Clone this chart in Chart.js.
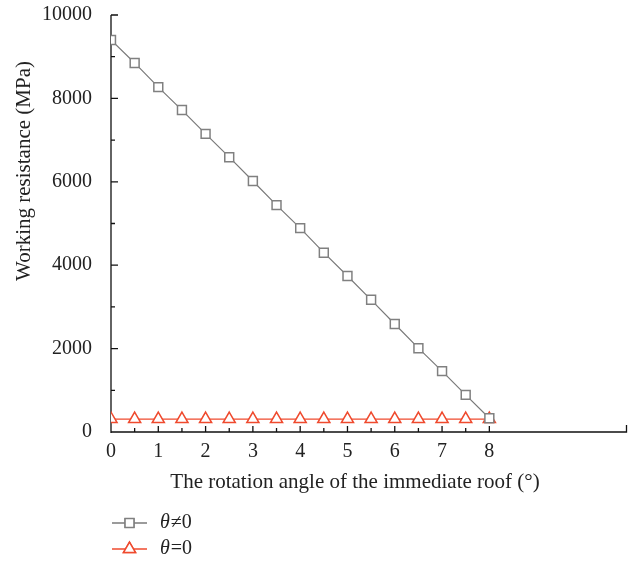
<!DOCTYPE html>
<html>
<body style="margin:0;background:#fff;">

<div style="width:635px;height:562px;">
  <canvas id="lineChart" width="635" height="562"></canvas>
</div>

<script src="https://cdn.jsdelivr.net/npm/chart.js"></script>

<script>
// rotation angle of the immediate roof (deg)
const angles = [0, 0.5, 1, 1.5, 2, 2.5, 3, 3.5, 4, 4.5, 5, 5.5, 6, 6.5, 7, 7.5, 8];
// working resistance, theta != 0
const resistNonZero = [9400, 8850, 8270, 7720, 7150, 6590, 6020, 5440, 4890, 4300, 3740, 3170, 2590, 2010, 1460, 890, 330];
// working resistance, theta = 0
const resistZero = [310, 310, 310, 310, 310, 310, 310, 310, 310, 310, 310, 310, 310, 310, 310, 310, 310];
const seriesNames = ['\u03b8\u22600', '\u03b8=0'];
const yTicks = [0, 2000, 4000, 6000, 8000, 10000];
const xLabels = [0, 1, 2, 3, 4, 5, 6, 7, 8];

const serif = '"Liberation Serif", "Times New Roman", serif';
const grayCol = '#7a7a7a';
const redCol = '#ef4a2e';

function toPoints(xs, ys){
    return xs.map((x, i) => ({x: x, y: ys[i]}));
}

const axesPlugin = {
    id: 'axesPlugin',
    beforeDatasetsDraw(chart){
        const ctx = chart.ctx;
        const xs = chart.scales.x, ys = chart.scales.y;
        const x0 = xs.getPixelForValue(0);
        const y0 = ys.getPixelForValue(0);
        const xEnd = xs.getPixelForValue(xs.max);
        const yTop = ys.getPixelForValue(10000);
        ctx.save();
        ctx.strokeStyle = '#111';
        ctx.lineWidth = 1.3;
        ctx.beginPath();
        ctx.moveTo(x0, yTop);
        ctx.lineTo(x0, y0 + 1);
        ctx.moveTo(x0, y0);
        ctx.lineTo(xEnd, y0);
        ctx.lineTo(xEnd, y0 - 7);
        // y ticks, every 1000, pointing inward
        for(let v = 0; v <= 10000; v += 1000){
            let py = ys.getPixelForValue(v);
            let len = (v % 2000 === 0) ? 7 : 4;
            ctx.moveTo(x0, py);
            ctx.lineTo(x0 + len, py);
        }
        // x ticks, every 0.5, pointing up
        for(let v = 0.5; v <= 8; v += 0.5){
            let px = xs.getPixelForValue(v);
            let len = (v % 1 === 0) ? 6 : 4;
            ctx.moveTo(px, y0);
            ctx.lineTo(px, y0 - len);
        }
        ctx.stroke();
        ctx.restore();
    },
    afterDraw(chart){
        const ctx = chart.ctx;
        ctx.save();
        ctx.fillStyle = '#222';
        // x title
        ctx.font = '21px ' + serif;
        ctx.textAlign = 'center';
        ctx.textBaseline = 'middle';
        ctx.fillText('The rotation angle of the immediate roof (\u00b0)', 355, 482);
        // y title
        ctx.save();
        ctx.translate(24, 171);
        ctx.rotate(-Math.PI / 2);
        ctx.fillText('Working resistance (MPa)', 0, 0);
        ctx.restore();

        // legend
        const rows = [523, 549];
        chart.data.datasets.forEach((ds, i) => {
            let y = rows[i];
            ctx.strokeStyle = ds.borderColor;
            ctx.lineWidth = 1.3;
            ctx.beginPath();
            ctx.moveTo(112, y);
            ctx.lineTo(147, y);
            ctx.stroke();
            Chart.helpers.drawPoint(ctx, {
                pointStyle: ds.pointStyle,
                radius: ds.pointRadius,
                borderWidth: ds.pointBorderWidth,
                rotation: 0
            }, 129.5, y);
            ctx.fillStyle = '#fff';
            ctx.strokeStyle = ds.pointBorderColor;
            ctx.lineWidth = ds.pointBorderWidth;
            ctx.fill();
            ctx.stroke();
            ctx.fillStyle = '#222';
            ctx.textAlign = 'left';
            ctx.font = 'italic 20px ' + serif;
            ctx.fillText(ds.label[0], 160, y);
            let w = ctx.measureText(ds.label[0]).width;
            ctx.font = '20px ' + serif;
            ctx.fillText(ds.label.slice(1), 160 + w + 1, y);
        });
        ctx.restore();
    }
};

new Chart(document.getElementById('lineChart'), {
    type: 'line',
    data: {
        datasets: [{
            label: seriesNames[0],
            data: toPoints(angles, resistNonZero),
            borderColor: grayCol,
            borderWidth: 1.2,
            pointStyle: 'rect',
            pointRadius: 6.3,
            pointBorderColor: '#808080',
            pointBackgroundColor: '#fff',
            pointBorderWidth: 1.5,
            tension: 0
        }, {
            label: seriesNames[1],
            data: toPoints(angles, resistZero),
            borderColor: redCol,
            borderWidth: 1.3,
            pointStyle: 'triangle',
            pointRadius: 7,
            pointBorderColor: redCol,
            pointBackgroundColor: '#fff',
            pointBorderWidth: 1.5,
            tension: 0
        }]
    },
    options: {
        responsive: false,
        animation: false,
        layout: {padding: {left: 0, top: 15, right: 8, bottom: 0}},
        plugins: {
            legend: {display: false},
            tooltip: {enabled: false}
        },
        scales: {
            x: {
                type: 'linear',
                min: 0,
                max: 10.9,
                grid: {display: false},
                border: {display: false},
                afterFit(scale){
                    scale.height = 130;
                    scale.paddingLeft = 0;
                    scale.paddingRight = 0;
                },
                afterBuildTicks(scale){
                    scale.ticks = xLabels.map(v => ({value: v}));
                },
                ticks: {
                    padding: 0,
                    color: '#222',
                    font: {family: serif, size: 20}
                }
            },
            y: {
                min: 0,
                max: 10000,
                grid: {display: false},
                border: {display: false},
                afterFit(scale){
                    scale.width = 111;
                    scale.paddingTop = 0;
                    scale.paddingBottom = 0;
                },
                afterBuildTicks(scale){
                    scale.ticks = yTicks.map(v => ({value: v}));
                },
                ticks: {
                    padding: 11,
                    color: '#222',
                    font: {family: serif, size: 20},
                    callback: v => String(v)
                }
            }
        }
    },
    plugins: [axesPlugin]
});
</script>

</body>
</html>
